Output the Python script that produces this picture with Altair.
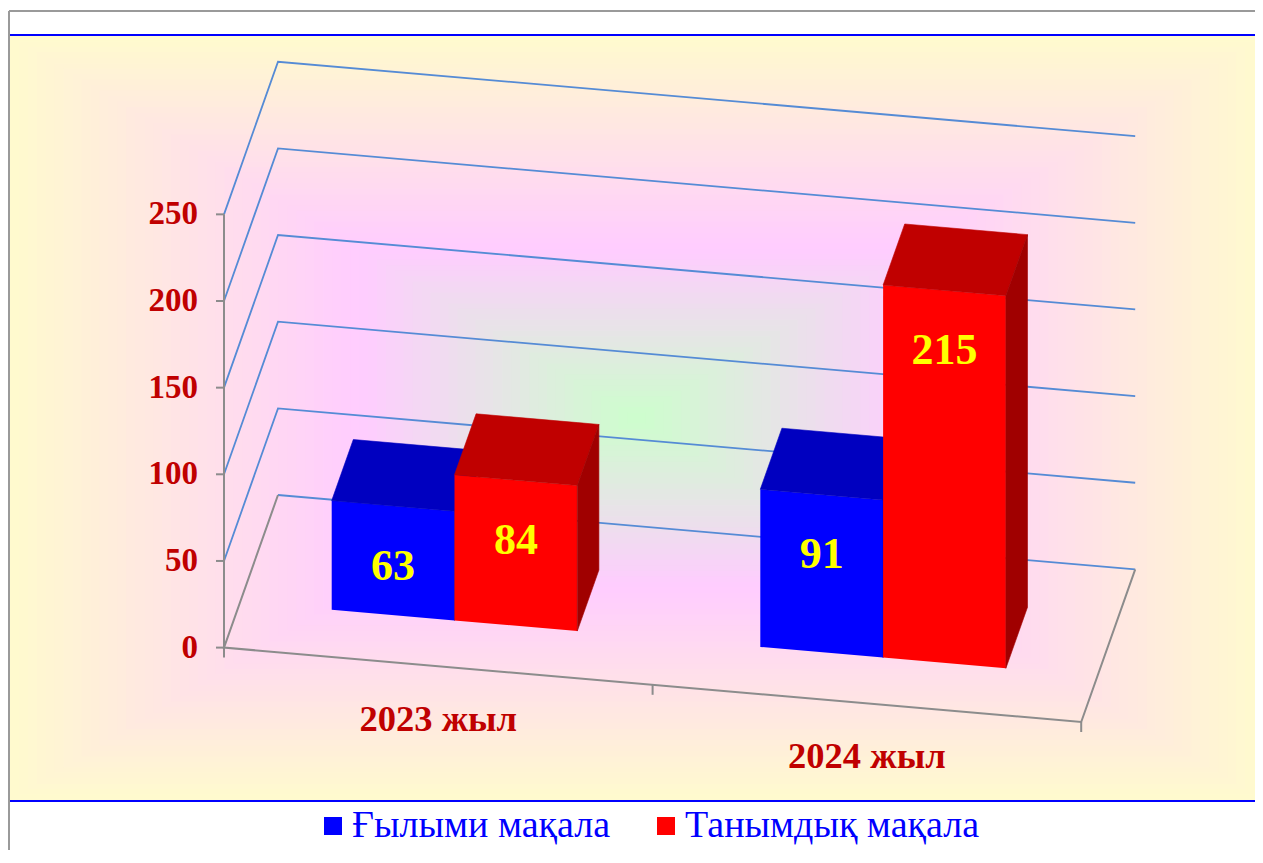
import altair as alt
import pandas as pd

# ---------------- data ----------------
categories = ["2023 жыл", "2024 жыл"]
series = ["Ғылыми мақала", "Танымдық мақала"]
scientific = [63, 91]
popular = [84, 215]
series_values = [scientific, popular]
y_ticks = [0, 50, 100, 150, 200, 250]

# ---------------- style ----------------
front_colors = ["#0000ff", "#ff0000"]
top_colors = ["#0000c0", "#c00000"]
side_colors = ["#00009c", "#a00000"]
GRID_BLUE = "#558bd5"
FLOOR_GRAY = "#8c8c8c"
LABEL_RED = "#c00000"
FONT = "Liberation Serif"

# ---------------- layout (page pixels) ----------------
PAGE = 8
TOT_W, TOT_H = 1247, 842
PLOT_L, PLOT_T = 224, 50
PLOT_W, PLOT_H = 926, 730
ORIGIN_Y = 647.6
PX_PER_SLOT = 428.6
PX_PER_UNIT = 1.733
DEPTH_DX_PX, DEPTH_DY_PX = 54.0, 152.6
SLANT = 0.0868
BW = 0.2865          # bar width, in category slots
D0, D1 = 0.30, 0.70  # bar depth range (fraction of floor depth)
LABEL_DROP = 35      # value labels sit this far below the bar top
TICK_LEN = 8

DXS = DEPTH_DX_PX / PX_PER_SLOT
DYV = DEPTH_DY_PX / PX_PER_UNIT
S = SLANT * PX_PER_SLOT / PX_PER_UNIT
XMAX = PLOT_W / PX_PER_SLOT
YMAX = (ORIGIN_Y - PLOT_T) / PX_PER_UNIT
YMIN = YMAX - PLOT_H / PX_PER_UNIT

xs = alt.Scale(domain=[0, XMAX], nice=False, zero=False)
ys = alt.Scale(domain=[YMIN, YMAX], nice=False, zero=False)


def X(field):
    return alt.X(field, scale=xs, axis=None)


def Y(field, **kw):
    return alt.Y(field, scale=ys, axis=None, **kw)


def proj(u, v, d):
    """oblique projection of (category position, value, depth) into chart units"""
    return (u + d * DXS, v + d * DYV - S * u)


def poly_to_area(verts):
    xs_ = sorted(set(round(p[0], 9) for p in verts))
    rows = []
    n = len(verts)
    for x in xs_:
        yy = []
        for i in range(n):
            (x1, y1), (x2, y2) = verts[i], verts[(i + 1) % n]
            if abs(x2 - x1) < 1e-9:
                if abs(x - x1) < 1e-7:
                    yy += [y1, y2]
            elif min(x1, x2) - 1e-9 <= x <= max(x1, x2) + 1e-9:
                t = (x - x1) / (x2 - x1)
                yy.append(y1 + t * (y2 - y1))
        rows.append((x, min(yy), max(yy)))
    return rows


# ---------------- bar faces ----------------
face_rows = []
label_rows = []
for gi, cat in enumerate(categories):
    for si, ser in enumerate(series):
        v = series_values[si][gi]
        u0 = gi + 0.5 - BW + si * BW
        u1 = u0 + BW
        faces = {
            "front": [proj(u0, 0, D0), proj(u1, 0, D0), proj(u1, v, D0), proj(u0, v, D0)],
            "top": [proj(u0, v, D0), proj(u1, v, D0), proj(u1, v, D1), proj(u0, v, D1)],
            "side": [proj(u1, 0, D0), proj(u1, 0, D1), proj(u1, v, D1), proj(u1, v, D0)],
        }
        for fname, verts in faces.items():
            for k, (x, lo, hi) in enumerate(poly_to_area(verts)):
                face_rows.append({"series": ser, "cat": cat, "face": fname,
                                  "fid": f"{cat}-{ser}-{fname}",
                                  "x": x, "ylo": lo, "yhi": hi})
        lx, ly = proj((u0 + u1) / 2, v - LABEL_DROP, D0)
        label_rows.append({"x": lx, "y": ly, "text": str(v)})
faces_df = pd.DataFrame(face_rows)
labels_df = pd.DataFrame(label_rows)

# ---------------- walls / floor ----------------
n_slots = len(categories)
grid_rows = []
for v in y_ticks:
    pts = [proj(0, 0, 1), proj(n_slots, 0, 1)] if v == 0 else \
        [proj(0, v, 0), proj(0, v, 1), proj(n_slots, v, 1)]
    for k, (x, y) in enumerate(pts):
        grid_rows.append({"gid": f"g{v}", "k": k, "x": x, "y": y})
grid_df = pd.DataFrame(grid_rows)

floor_pts = [proj(0, 0, 1), proj(0, 0, 0), proj(n_slots, 0, 0), proj(n_slots, 0, 1)]
floor_df = pd.DataFrame([{"gid": "floor", "k": k, "x": x, "y": y}
                         for k, (x, y) in enumerate(floor_pts)])

tick_df = pd.DataFrame([{"x": proj(u, 0, 0)[0], "y": proj(u, 0, 0)[1]}
                        for u in range(n_slots + 1)])

cat_df = pd.DataFrame([{"cat": c, "x": proj(i + 0.5, 0, 0)[0], "y": proj(i + 0.5, 0, 0)[1]}
                       for i, c in enumerate(categories)])

axis_df = pd.DataFrame([{"x": 0, "y": 0, "y2": max(y_ticks)}])
ytick_df = pd.DataFrame({"x": [0] * len(y_ticks), "y": y_ticks,
                         "label": [str(t) for t in y_ticks]})

# ---------------- background (rectangular gradient from centre) ----------------
def lerp(c1, c2, t):
    return tuple(round(a + (b - a) * t) for a, b in zip(c1, c2))


stops = [(0.0, (204, 255, 204)), (0.45, (255, 204, 255)), (1.0, (255, 250, 206))]


def grad_color(s):
    for (s1, c1), (s2, c2) in zip(stops[:-1], stops[1:]):
        if s <= s2:
            c = lerp(c1, c2, (s - s1) / (s2 - s1))
            return "#%02x%02x%02x" % c
    return "#%02x%02x%02x" % stops[-1][1]


BG_X0, BG_X1 = 10 - PLOT_L, 1263 - PLOT_L
BG_Y0, BG_Y1 = 36 - PLOT_T, 800 - PLOT_T
cx, cy = (BG_X0 + BG_X1) / 2, (BG_Y0 + BG_Y1) / 2
hw, hh = (BG_X1 - BG_X0) / 2, (BG_Y1 - BG_Y0) / 2
N = 70
bg_rows = []
for k in range(N):
    s = 1 - k / N
    bg_rows.append({
        "x1": (cx - s * hw) / PX_PER_SLOT, "x2": (cx + s * hw) / PX_PER_SLOT,
        "y1": YMAX - (cy - s * hh) / PX_PER_UNIT, "y2": YMAX - (cy + s * hh) / PX_PER_UNIT,
        "c": grad_color(s), "k": k})
bg_df = pd.DataFrame(bg_rows)

one = pd.DataFrame({"a": [0]})

layers = []
layers.append(alt.Chart(bg_df).mark_rect(strokeWidth=0).encode(
    x=X("x1:Q"), x2="x2:Q", y=Y("y1:Q"), y2="y2:Q",
    color=alt.Color("c:N", scale=None)))

# frame lines
layers.append(alt.Chart(one).mark_rule(color="#9a9a9a", strokeWidth=2).encode(
    x=alt.value(9 - PLOT_L), y=alt.value(11 - PLOT_T), y2=alt.value(900)))
layers.append(alt.Chart(one).mark_rule(color="#9a9a9a", strokeWidth=2).encode(
    x=alt.value(9 - PLOT_L), x2=alt.value(1100), y=alt.value(11 - PLOT_T)))
layers.append(alt.Chart(one).mark_rule(color="#0000ff", strokeWidth=2).encode(
    x=alt.value(10 - PLOT_L), x2=alt.value(1100), y=alt.value(35 - PLOT_T)))
layers.append(alt.Chart(one).mark_rule(color="#0000ff", strokeWidth=2).encode(
    x=alt.value(10 - PLOT_L), x2=alt.value(1100), y=alt.value(801 - PLOT_T)))

# wall grid lines and floor
layers.append(alt.Chart(grid_df).mark_line(color=GRID_BLUE, strokeWidth=1.8).encode(
    x=X("x:Q"), y=Y("y:Q"), detail="gid:N", order="k:Q"))
layers.append(alt.Chart(floor_df).mark_line(color=FLOOR_GRAY, strokeWidth=2).encode(
    x=X("x:Q"), y=Y("y:Q"), detail="gid:N", order="k:Q"))
layers.append(alt.Chart(tick_df).mark_rule(color=FLOOR_GRAY, strokeWidth=2, y2Offset=10).encode(
    x=X("x:Q"), y=Y("y:Q"), y2="y:Q"))

# value axis: line, ticks, labels
layers.append(alt.Chart(axis_df).mark_rule(color=FLOOR_GRAY, strokeWidth=2).encode(
    x=X("x:Q"), y=Y("y:Q"), y2="y2:Q"))
layers.append(alt.Chart(ytick_df).mark_rule(color=FLOOR_GRAY, strokeWidth=2,
                                            x2Offset=-TICK_LEN).encode(
    x=X("x:Q"), x2="x:Q", y=Y("y:Q")))
layers.append(alt.Chart(ytick_df).mark_text(
    font=FONT, fontWeight="bold", fontSize=33, color=LABEL_RED,
    align="right", baseline="middle", dx=-(TICK_LEN + 18)).encode(
    x=X("x:Q"), y=Y("y:Q"), text="label:N"))

# bars
legend = alt.Legend(title=None, orient="none", legendX=90, legendY=757,
                    direction="horizontal", symbolType="square", symbolSize=324,
                    symbolStrokeWidth=0, symbolOpacity=1, labelFont=FONT,
                    labelFontSize=38, labelColor="#0000ff", labelOffset=0,
                    columnPadding=36, padding=0, labelLimit=500)
color_scale = alt.Scale(domain=series, range=front_colors)
for si, ser in enumerate(series):
    base = alt.Chart(faces_df).encode(
        x=X("x:Q"), y=Y("ylo:Q", stack=None), y2="yhi:Q", detail="fid:N")
    layers.append(base.transform_filter(
        (alt.datum.series == ser) & (alt.datum.face == "front")).mark_area(opacity=1).encode(
        color=alt.Color("series:N", scale=color_scale, legend=legend)))
    layers.append(base.transform_filter(
        (alt.datum.series == ser) & (alt.datum.face == "top")).mark_area(
        opacity=1, color=top_colors[si], stroke=top_colors[si], strokeWidth=0.6))
    layers.append(base.transform_filter(
        (alt.datum.series == ser) & (alt.datum.face == "side")).mark_area(
        opacity=1, color=side_colors[si], stroke=side_colors[si], strokeWidth=0.6))

# value labels
layers.append(alt.Chart(labels_df).mark_text(
    font=FONT, fontWeight="bold", fontSize=44, color="#ffff00",
    baseline="middle", align="center").encode(
    x=X("x:Q"), y=Y("y:Q"), text="text:N"))

# category labels
layers.append(alt.Chart(cat_df).mark_text(
    font=FONT, fontWeight="bold", fontSize=36.5, color=LABEL_RED,
    baseline="middle", align="center", dy=54).encode(
    x=X("x:Q"), y=Y("y:Q"), text="cat:N"))

chart = alt.layer(*layers).properties(
    width=PLOT_W, height=PLOT_H,
    padding={"left": PLOT_L - PAGE, "top": PLOT_T - PAGE,
             "right": TOT_W - (PLOT_L - PAGE) - PLOT_W,
             "bottom": TOT_H - (PLOT_T - PAGE) - PLOT_H},
    autosize=alt.AutoSizeParams(type="none"),
    background="white",
).configure_view(stroke=None)

chart.save("out.html", embed_options={"renderer": "svg", "actions": False})
